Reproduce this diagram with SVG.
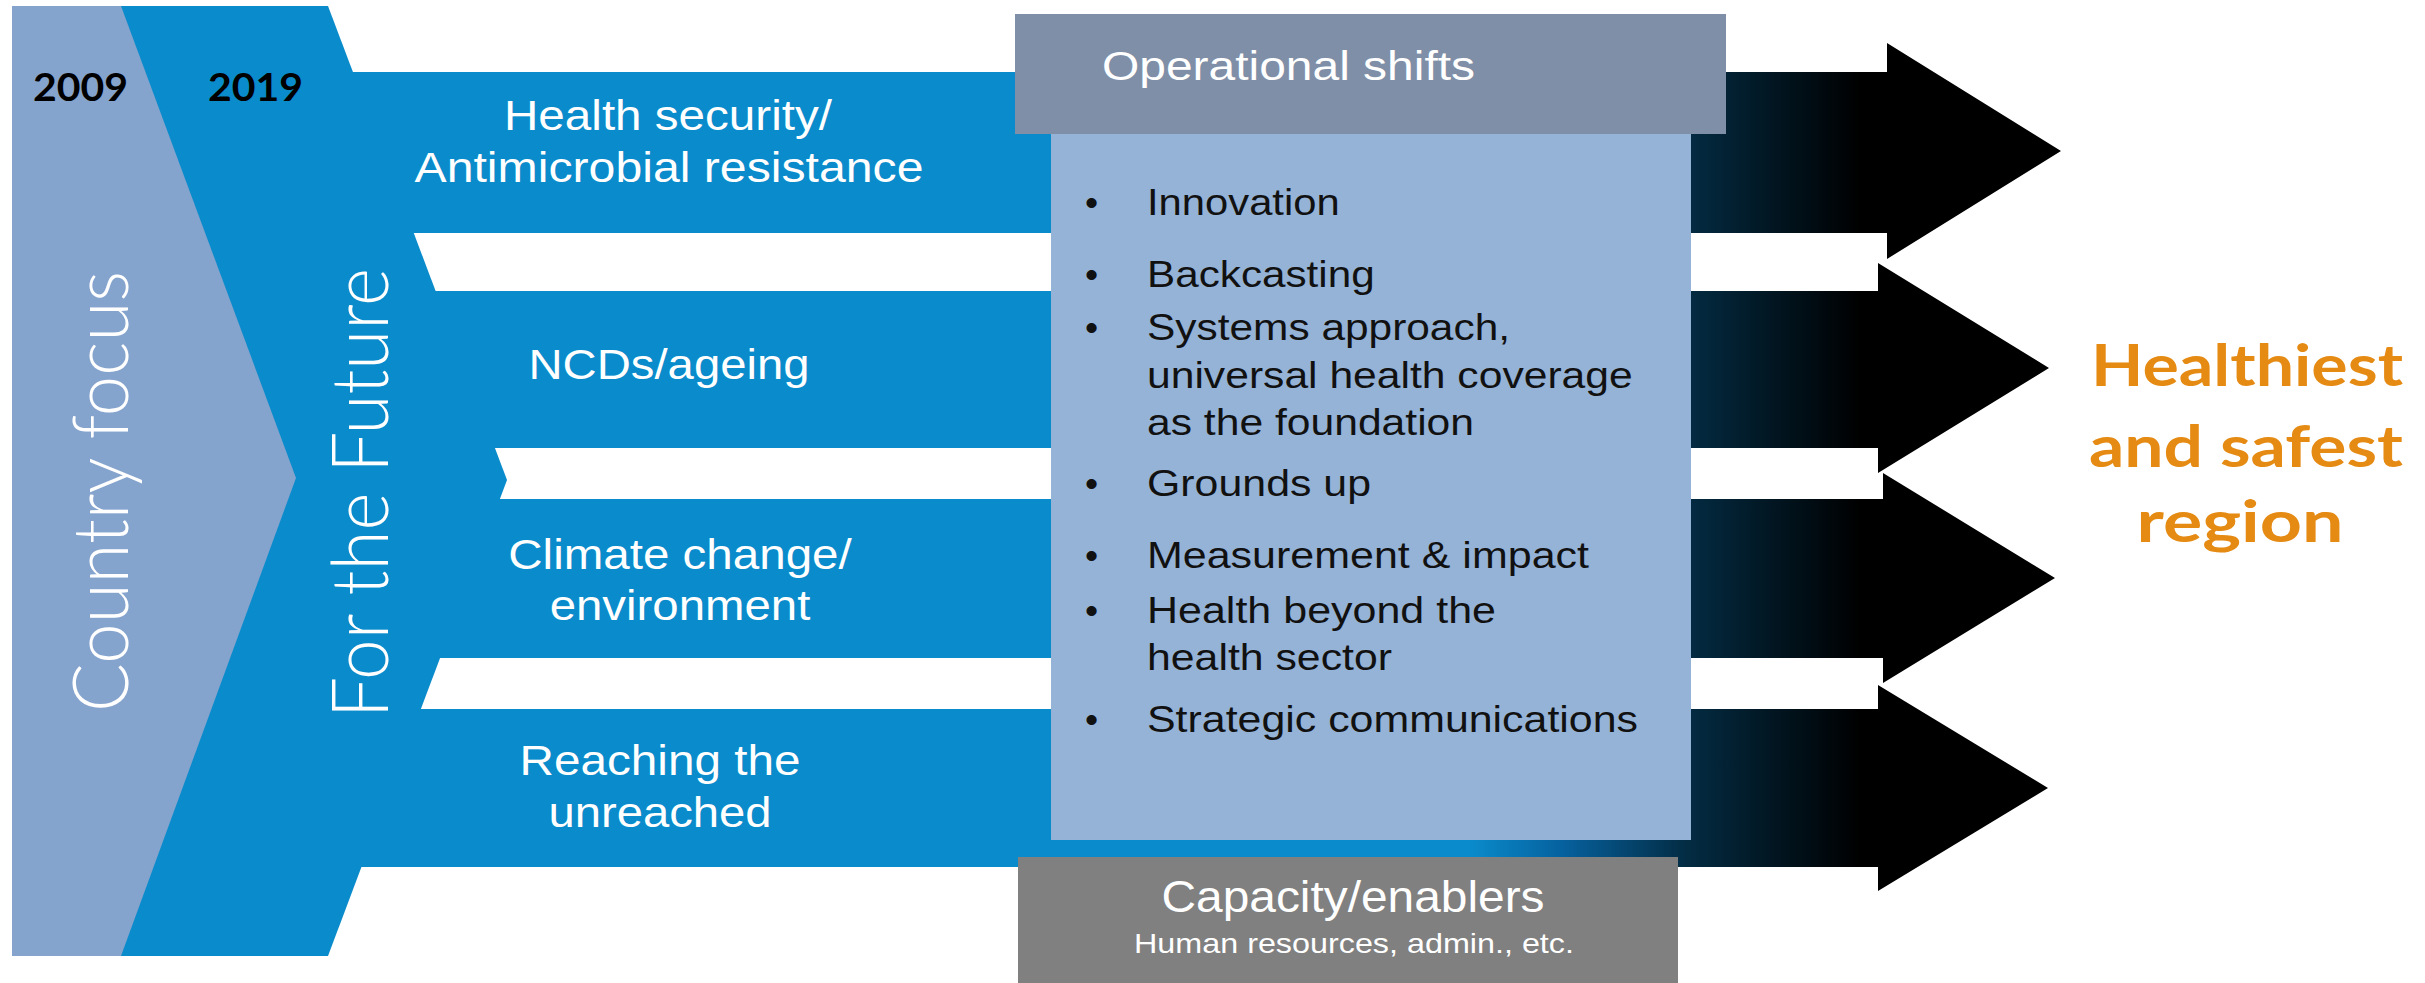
<svg xmlns="http://www.w3.org/2000/svg" width="2425" height="983" viewBox="0 0 2425 983">
  <defs>
    <linearGradient id="bandGrad" gradientUnits="userSpaceOnUse" x1="1470" y1="0" x2="1860" y2="0">
      <stop offset="0" stop-color="#0A8BCB"/>
      <stop offset="0.23" stop-color="#0662A0"/>
      <stop offset="0.56" stop-color="#032B42"/>
      <stop offset="1" stop-color="#000000"/>
    </linearGradient>
  </defs>
  <style>
    .arrow { fill: url(#bandGrad); }
    .band-label { font-family: "Liberation Sans", Arial, sans-serif; font-size: 43px; fill: #ffffff; text-anchor: middle; }
    .bullet { font-family: "Liberation Sans", Arial, sans-serif; font-size: 37.5px; fill: #111111; }
    .vert { font-family: Lato, "Open Sans", sans-serif; font-weight: 300; fill: #ffffff; text-anchor: middle; }
    .year { font-family: Lato, "Liberation Sans", sans-serif; font-weight: 700; font-size: 39px; fill: #000000; }
    .goal { font-family: Lato, "Liberation Sans", sans-serif; font-weight: 700; font-size: 58px; fill: #E58A13; text-anchor: middle; }
    .box-title { font-family: "Liberation Sans", Arial, sans-serif; fill: #ffffff; }
  </style>

  <!-- For the Future chevron (2019) -->
  <g id="chevron-future">
    <polygon points="100,6 328,6 507,480 328,956 100,956" fill="#0A8BCB"/>
  </g>

  <!-- Band arrows -->
  <g id="connectors">
    <path class="arrow" d="M320,72 H1887 V43 L2061,151 L1887,259 V233 H320 Z"/>
    <path class="arrow" d="M320,291 H1878 V263 L2049,368 L1878,473 V448 H320 Z"/>
    <path class="arrow" d="M320,499 H1883 V473 L2055,578 L1883,683 V658 H320 Z"/>
    <path class="arrow" d="M320,709 H1878 V685 L2048,788 L1878,891 V867 H320 Z"/>
  </g>

  <!-- Country focus chevron (2009) -->
  <g id="chevron-country">
    <polygon points="12,6 121,6 296,478 121,956 12,956" fill="#84A3CD"/>
    <text class="year" x="33" y="101" textLength="95" lengthAdjust="spacingAndGlyphs">2009</text>
    <text class="vert" transform="translate(128,491.5) rotate(-90)" font-size="76" textLength="441" lengthAdjust="spacingAndGlyphs">Country focus</text>
  </g>

  <g id="future-labels">
    <text class="year" x="208" y="101" textLength="95" lengthAdjust="spacingAndGlyphs">2019</text>
    <text class="vert" transform="translate(388,493) rotate(-90)" font-size="78" textLength="450" lengthAdjust="spacingAndGlyphs">For the Future</text>
  </g>

  <g id="band-health-security">
    <text class="band-label" x="668" y="130" textLength="328" lengthAdjust="spacingAndGlyphs">Health security/</text>
    <text class="band-label" x="669" y="181.7" textLength="509" lengthAdjust="spacingAndGlyphs">Antimicrobial resistance</text>
  </g>
  <g id="band-ncds">
    <text class="band-label" x="669" y="379" textLength="281" lengthAdjust="spacingAndGlyphs">NCDs/ageing</text>
  </g>
  <g id="band-climate">
    <text class="band-label" x="680" y="569.3" textLength="343.5" lengthAdjust="spacingAndGlyphs">Climate change/</text>
    <text class="band-label" x="680" y="620" textLength="260.7" lengthAdjust="spacingAndGlyphs">environment</text>
  </g>
  <g id="band-unreached">
    <text class="band-label" x="660" y="775" textLength="281" lengthAdjust="spacingAndGlyphs">Reaching the</text>
    <text class="band-label" x="660" y="826.7" textLength="223" lengthAdjust="spacingAndGlyphs">unreached</text>
  </g>

  <!-- Operational shifts -->
  <g id="operational-shifts">
    <rect x="1051" y="134" width="640" height="706" fill="#95B3D7"/>
    <rect x="1015" y="14" width="711" height="120" fill="#7F8FA7"/>
    <text class="box-title" x="1102" y="80" font-size="40" textLength="373" lengthAdjust="spacingAndGlyphs">Operational shifts</text>
    <g class="bullet">
      <text x="1085" y="215">•</text>
      <text x="1147" y="215" textLength="192.7" lengthAdjust="spacingAndGlyphs">Innovation</text>
      <text x="1085" y="286.7">•</text>
      <text x="1147" y="286.7" textLength="227.7" lengthAdjust="spacingAndGlyphs">Backcasting</text>
      <text x="1085" y="340">•</text>
      <text x="1147" y="340" textLength="363" lengthAdjust="spacingAndGlyphs">Systems approach,</text>
      <text x="1147" y="388.3" textLength="485.7" lengthAdjust="spacingAndGlyphs">universal health coverage</text>
      <text x="1147" y="435" textLength="327" lengthAdjust="spacingAndGlyphs">as the foundation</text>
      <text x="1085" y="496">•</text>
      <text x="1147" y="496" textLength="224" lengthAdjust="spacingAndGlyphs">Grounds up</text>
      <text x="1085" y="568">•</text>
      <text x="1147" y="568" textLength="442" lengthAdjust="spacingAndGlyphs">Measurement &amp; impact</text>
      <text x="1085" y="623">•</text>
      <text x="1147" y="623" textLength="349" lengthAdjust="spacingAndGlyphs">Health beyond the</text>
      <text x="1147" y="670" textLength="245" lengthAdjust="spacingAndGlyphs">health sector</text>
      <text x="1085" y="731.7">•</text>
      <text x="1147" y="731.7" textLength="491" lengthAdjust="spacingAndGlyphs">Strategic communications</text>
    </g>
  </g>

  <!-- Capacity/enablers -->
  <g id="capacity-enablers">
    <rect x="1018" y="857" width="660" height="126" fill="#808080"/>
    <text class="box-title" x="1353" y="912" font-size="44" text-anchor="middle" textLength="383" lengthAdjust="spacingAndGlyphs">Capacity/enablers</text>
    <text class="box-title" x="1354" y="953" font-size="28" text-anchor="middle" textLength="440" lengthAdjust="spacingAndGlyphs">Human resources, admin., etc.</text>
  </g>

  <!-- Outcome -->
  <g id="outcome">
    <text class="goal" x="2247" y="385.7" textLength="312" lengthAdjust="spacingAndGlyphs">Healthiest</text>
    <text class="goal" x="2246" y="466.7" textLength="314" lengthAdjust="spacingAndGlyphs">and safest</text>
    <text class="goal" x="2240" y="541.7" textLength="207" lengthAdjust="spacingAndGlyphs">region</text>
  </g>
</svg>
